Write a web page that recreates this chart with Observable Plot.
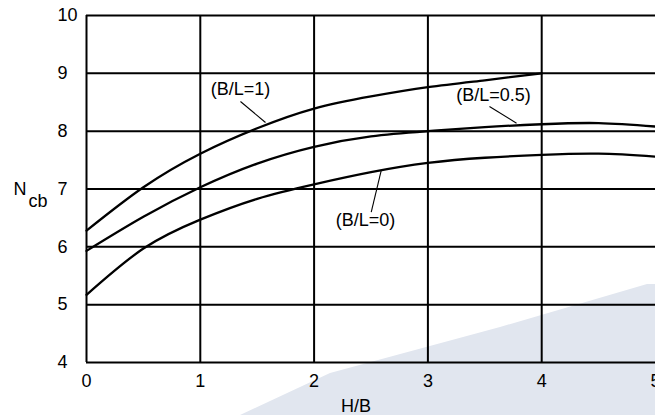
<!DOCTYPE html>
<html><head><meta charset="utf-8">
<script src="https://cdn.jsdelivr.net/npm/d3@7"></script>
<script src="https://cdn.jsdelivr.net/npm/@observablehq/plot@0.6"></script>
<style>
html,body{margin:0;padding:0;background:#fff;}
#wrap{position:relative;width:655px;height:415px;overflow:hidden;}
#wm{position:absolute;left:0;top:0;width:655px;height:415px;background:#e1e6ef;
  clip-path:polygon(240px 415px, 330px 373px, 500px 327px, 647px 284px, 655px 284px, 655px 415px);}
#chart{position:absolute;left:0;top:0;}
</style></head><body>
<div id="wrap"><div id="wm"></div><div id="chart"></div></div>
<script>
// H/B values and N_cb values for each B/L curve
const hbShort = [0, 0.5, 1, 1.5, 2, 2.5, 3, 3.5, 4];
const ncbBL1  = [6.28, 7.03, 7.61, 8.05, 8.39, 8.60, 8.76, 8.88, 9.0];
const hbLong  = [0, 0.5, 1, 1.5, 2, 2.5, 3, 3.5, 4, 4.5, 5];
const ncbBL05 = [5.93, 6.52, 7.03, 7.44, 7.73, 7.91, 8.00, 8.07, 8.12, 8.14, 8.08];
const ncbBL0  = [5.17, 5.97, 6.47, 6.83, 7.08, 7.29, 7.45, 7.54, 7.59, 7.61, 7.56];

const xTicks = [0, 1, 2, 3, 4, 5];
const xGrid = [0, 1, 2, 3, 4];
const yTicks = [4, 5, 6, 7, 8, 9, 10];

// curve annotations
const labelText = ["(B/L=1)", "(B/L=0.5)", "(B/L=0)"];
const labelX = [1.353, 3.577, 2.452];
const labelY = [8.72, 8.617, 6.455];
const leadX1 = [1.353, 3.541, 2.502];
const leadY1 = [8.513, 8.426, 6.599];
const leadX2 = [1.573, 3.779, 2.59];
const leadY2 = [8.15, 8.138, 7.32];

const series = [
  ...hbShort.map((h, i) => ({hb: h, ncb: ncbBL1[i], bl: "1"})),
  ...hbLong.map((h, i) => ({hb: h, ncb: ncbBL05[i], bl: "0.5"})),
  ...hbLong.map((h, i) => ({hb: h, ncb: ncbBL0[i], bl: "0"}))
];
const labels = labelText.map((t, i) => ({t, x: labelX[i], y: labelY[i]}));
const leaders = leadX1.map((x, i) => ({x1: x, y1: leadY1[i], x2: leadX2[i], y2: leadY2[i]}));

const font = "'Liberation Sans', Arial, sans-serif";
const chart = Plot.plot({
  width: 655,
  height: 415,
  marginLeft: 86,
  marginRight: 0,
  marginTop: 15,
  marginBottom: 53,
  style: {background: "transparent", fontFamily: font, fontSize: "18px", color: "black"},
  x: {domain: [0, 5], label: null},
  y: {domain: [4, 10], label: null},
  marks: [
    Plot.gridX(xGrid, {stroke: "black", strokeOpacity: 1, strokeWidth: 2}),
    Plot.gridY(yTicks, {stroke: "black", strokeOpacity: 1, strokeWidth: 2}),
    Plot.axisX(xTicks, {tickSize: 0, tickPadding: 12, tickFormat: "d", fontSize: 18, label: null}),
    Plot.axisY(yTicks, {tickSize: 0, tickPadding: 29, tickFormat: "d", textAnchor: "start", fontSize: 18, label: null}),
    Plot.line(series, {x: "hb", y: "ncb", z: "bl", curve: "natural", stroke: "black", strokeWidth: 2.3}),
    Plot.link(leaders, {x1: "x1", y1: "y1", x2: "x2", y2: "y2", stroke: "black", strokeWidth: 1.1}),
    Plot.text(labels, {x: "x", y: "y", text: "t", fontSize: 18, fill: "black"}),
    Plot.text(["N"], {frameAnchor: "left", y: () => 7, text: d => d, textAnchor: "start", dx: -73, fontSize: 18}),
    Plot.text(["cb"], {frameAnchor: "left", y: () => 7, text: d => d, textAnchor: "start", dx: -58, dy: 12, fontSize: 18}),
    Plot.text(["H/B"], {frameAnchor: "bottom", text: d => d, dx: -15, dy: 49, fontSize: 18})
  ]
});
document.getElementById("chart").append(chart);
</script>
</body></html>
